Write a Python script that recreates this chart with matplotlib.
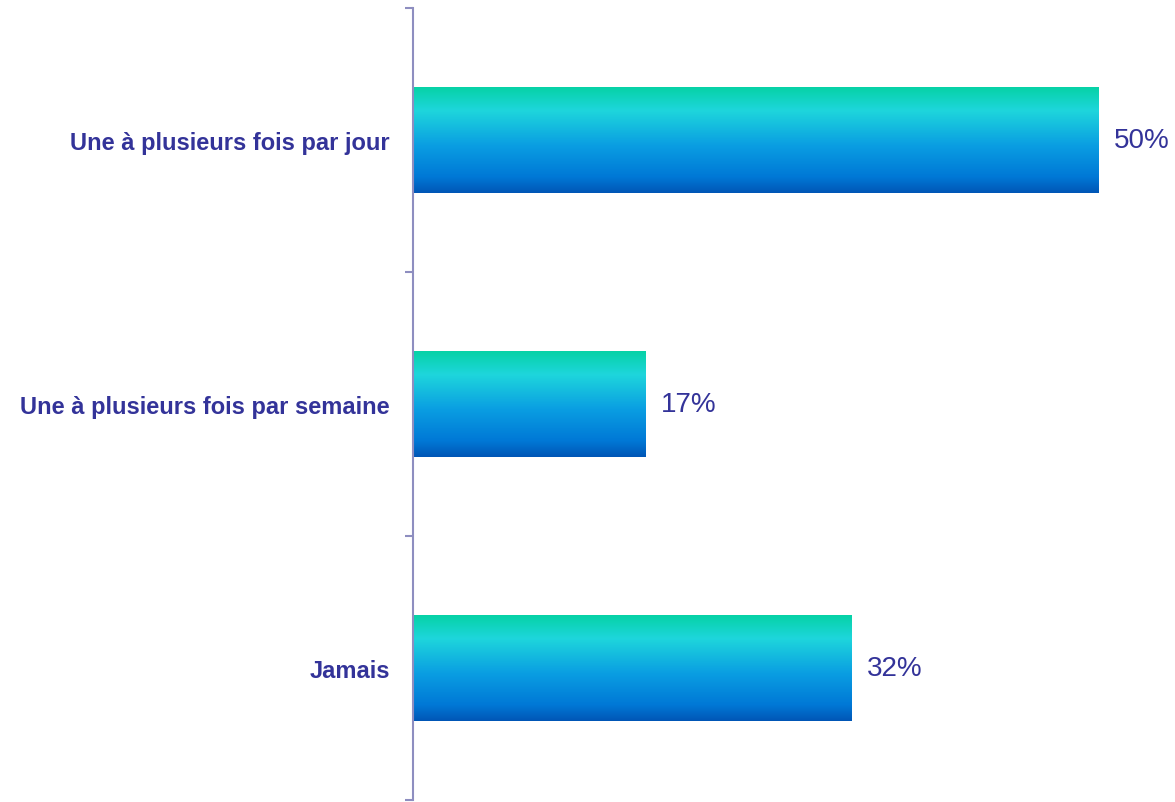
import numpy as np
import matplotlib
matplotlib.use('Agg')
import matplotlib.pyplot as plt
from matplotlib.colors import LinearSegmentedColormap

# data
categories = ['Une à plusieurs fois par jour',
              'Une à plusieurs fois par semaine',
              'Jamais']
values = [50, 17, 32]
value_labels = ['50%', '17%', '32%']

text_color = '#333399'
axis_color = '#8e8ec0'

# vertical gradient used for every bar (top -> bottom)
grad_cmap = LinearSegmentedColormap.from_list(
    'bar_grad',
    [(0.0, '#06d2a6'), (0.22, '#1ed6dc'), (0.55, '#0a9ee2'),
     (0.85, '#0078d6'), (1.0, '#0056b6')])
grad = np.linspace(0, 1, 256).reshape(-1, 1)

fig = plt.figure(figsize=(11.75, 8.03), dpi=100)
ax = fig.add_axes([413 / 1175, 2 / 803, 1 - 413 / 1175, 792 / 803])

y = np.arange(len(categories))
bars = ax.barh(y, values, height=0.40, color='none', edgecolor='none')

for b in bars:
    x0, y0 = b.get_x(), b.get_y()
    w, h = b.get_width(), b.get_height()
    # y axis is inverted, so origin='lower' puts the teal end on top
    ax.imshow(grad, cmap=grad_cmap, aspect='auto', origin='lower',
              extent=(x0, x0 + w, y0, y0 + h), zorder=2)

for b, lab in zip(bars, value_labels):
    ax.annotate(lab, xy=(b.get_width(), b.get_y() + b.get_height() / 2),
                xytext=(11, 0), textcoords='offset points',
                ha='left', va='center', fontsize=20, color=text_color,
                family='Liberation Sans')

ax.set_xlim(0, 55.6)
ax.set_ylim(2.5, -0.5)

# boundary ticks (major) and category labels (minor)
ax.set_yticks([-0.5, 0.5, 1.5, 2.5])
ax.set_yticklabels([])
ax.set_yticks(y, minor=True)
ax.set_yticklabels(categories, minor=True, fontsize=17, fontweight='bold',
                   color=text_color, family='Liberation Sans')
ax.tick_params(axis='y', which='major', length=6, width=1.5,
               color=axis_color, direction='out')
ax.tick_params(axis='y', which='minor', length=0, pad=16.5)
ax.set_xticks([])

for s in ['top', 'right', 'bottom']:
    ax.spines[s].set_visible(False)
ax.spines['left'].set_color(axis_color)
ax.spines['left'].set_linewidth(1.5)

fig.savefig('out.png', dpi=100)
